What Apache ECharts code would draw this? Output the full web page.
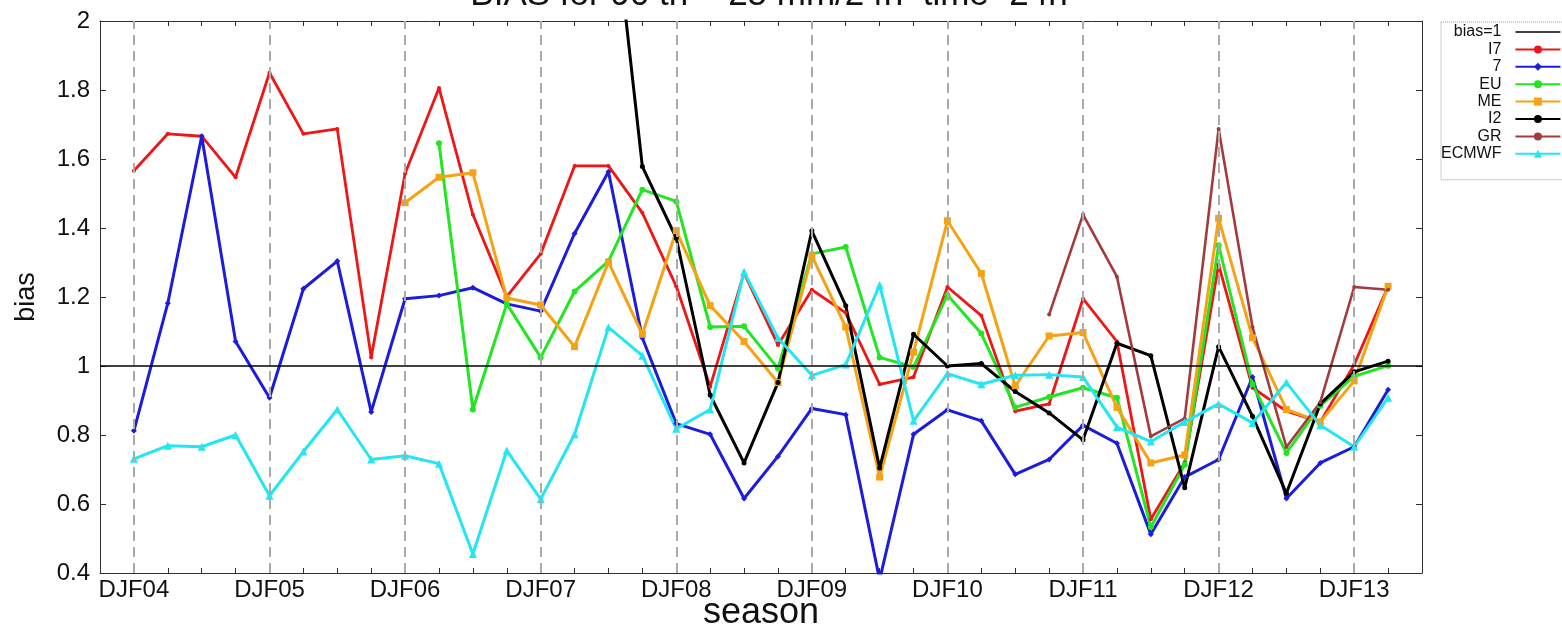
<!DOCTYPE html>
<html>
<head>
<meta charset="utf-8">
<script src="https://cdn.jsdelivr.net/npm/echarts@6/dist/echarts.min.js"></script>
<style>
  html, body { margin: 0; padding: 0; background: #fff; }
  #chart { width: 1562px; height: 628px; }
</style>
</head>
<body>
<div id="chart"></div>
<script>
// Seasons, one point per season (DJF, MAM, JJA, SON)
const seasons = [
  'DJF04','MAM04','JJA04','SON04','DJF05','MAM05','JJA05','SON05',
  'DJF06','MAM06','JJA06','SON06','DJF07','MAM07','JJA07','SON07',
  'DJF08','MAM08','JJA08','SON08','DJF09','MAM09','JJA09','SON09',
  'DJF10','MAM10','JJA10','SON10','DJF11','MAM11','JJA11','SON11',
  'DJF12','MAM12','JJA12','SON12','DJF13','MAM13'
];

// Bias per model and season (null = no data)
const biasI7 = [1.566,1.673,1.666,1.547,1.850,1.673,1.687,1.025,1.558,1.806,1.439,1.201,1.325,1.580,1.580,1.444,1.231,0.940,1.270,1.061,1.221,1.154,0.947,0.968,1.229,1.146,0.869,0.890,1.195,1.071,0.556,0.720,1.294,0.937,0.869,0.838,1.004,1.231];
const bias7 = [0.812,1.182,1.666,1.071,0.908,1.224,1.304,0.867,1.195,1.204,1.227,1.180,1.159,1.384,1.563,1.081,0.833,0.802,0.616,0.738,0.877,0.859,0.380,0.802,0.873,0.841,0.686,0.729,0.828,0.776,0.512,0.678,0.729,0.968,0.616,0.719,0.766,0.931];
const biasEU = [null,null,null,null,null,null,null,null,null,1.646,0.874,1.180,1.025,1.216,1.304,1.511,1.477,1.113,1.115,0.993,1.325,1.345,1.025,0.997,1.206,1.094,0.880,0.910,0.937,0.908,0.533,0.714,1.350,0.947,0.748,0.885,0.970,1.001];
const biasME = [null,null,null,null,null,null,null,null,1.473,1.547,1.560,1.197,1.177,1.056,1.301,1.092,1.392,1.175,1.071,0.952,1.319,1.113,0.678,1.040,1.421,1.268,0.942,1.087,1.097,0.880,0.719,0.742,1.428,1.082,0.874,0.838,0.957,1.231];
const biasI2 = [null,null,null,null,null,null,null,null,null,null,null,null,null,null,2.460,1.578,1.371,0.916,0.719,0.952,1.392,1.175,0.704,1.092,1.000,1.007,0.926,0.864,0.786,1.066,1.030,0.647,1.056,0.854,0.631,0.890,0.983,1.014];
const biasGR = [null,null,null,null,null,null,null,null,null,null,null,null,null,null,null,null,null,null,null,null,null,null,null,null,null,null,null,1.149,1.439,1.259,0.796,0.848,1.687,1.113,0.765,0.895,1.229,1.221];
const biasECMWF = [0.731,0.769,0.766,0.800,0.624,0.752,0.874,0.729,0.740,0.717,0.455,0.755,0.614,0.802,1.112,1.030,0.818,0.874,1.273,1.081,0.973,1.004,1.235,0.841,0.978,0.947,0.973,0.975,0.968,0.823,0.781,0.838,0.890,0.835,0.952,0.828,0.766,0.908];

// Reference level and y tick range
const refBias = 1;
const yMin = 0.4, yMax = 2, yStep = 0.2;

const models = [
  { name: 'I7',    values: biasI7,    color: '#ee1616', symbol: 'circle',   size: 4, width: 2.8 },
  { name: '7',     values: bias7,     color: '#1c1cdc', symbol: 'diamond',  size: 6, width: 3 },
  { name: 'EU',    values: biasEU,    color: '#22e622', symbol: 'circle',   size: 6, width: 3 },
  { name: 'ME',    values: biasME,    color: '#f5a315', symbol: 'rect',     size: 7, width: 3 },
  { name: 'I2',    values: biasI2,    color: '#000000', symbol: 'circle',   size: 5, width: 3 },
  { name: 'GR',    values: biasGR,    color: '#a33a3e', symbol: 'circle',   size: 4, width: 2.6 },
  { name: 'ECMWF', values: biasECMWF, color: '#22e6f2', symbol: 'triangle', size: 8, width: 3 }
];

const djfIndex = seasons.map((s, i) => s.startsWith('DJF') ? i : -1).filter(i => i >= 0);
const xMin = -1, xMax = seasons.length;

const chart = echarts.init(document.getElementById('chart'), null, { renderer: 'canvas' });

const series = [{
  name: 'bias=1',
  type: 'line',
  data: [],
  color: '#000',
  symbol: 'none',
  lineStyle: { color: '#000', width: 2 },
  markLine: {
    silent: true,
    symbol: 'none',
    label: { show: false },
    animation: false,
    data: djfIndex.map(i => ({
      xAxis: i,
      lineStyle: { color: '#ababab', width: 2, type: [10, 6] }
    })).concat([{
      yAxis: refBias,
      lineStyle: { color: '#000', width: 1.6, type: 'solid' }
    }])
  }
}].concat(models.map(m => ({
  name: m.name,
  type: 'line',
  data: m.values.map((v, i) => [i, v]),
  color: m.color,
  symbol: m.symbol,
  symbolSize: m.size,
  showAllSymbol: true,
  clip: true,
  lineStyle: { color: m.color, width: m.width },
  itemStyle: { color: m.color },
  emphasis: { disabled: true }
})));

// plain line icon (bounding box pinned to the full icon area)
const plainLineIcon = 'path://M0,0M45,10M0,4.2H45V5.8H0Z';

const frame = '#303030';
chart.setOption({
  animation: false,
  backgroundColor: '#ffffff',
  textStyle: { fontFamily: 'Liberation Sans, Arial, sans-serif' },
  title: {
    text: 'BIAS for 90 th = 25 mm/24h  time=24h',
    left: 764,
    textAlign: 'center',
    top: -27,
    textStyle: { fontSize: 35, fontWeight: 'normal', color: '#111' }
  },
  grid: { left: 100, right: 140, top: 21, bottom: 55, containLabel: false, outerBoundsMode: 'none' },
  legend: {
    orient: 'vertical',
    left: 1441,
    top: 22,
    align: 'right',
    itemWidth: 45,
    itemHeight: 10,
    itemGap: 1.4,
    padding: [2, 6, 18, 0],
    borderColor: '#9a9a9a',
    borderWidth: 1,
    borderType: 'dotted',
    textStyle: { fontSize: 16, lineHeight: 16, color: '#111', padding: [0, 9, 0, 0] },
    data: [{ name: 'bias=1', icon: plainLineIcon }].concat(models.map(m => m.name))
  },
  xAxis: [{
    type: 'value',
    min: xMin, max: xMax, interval: 1,
    name: 'season',
    nameLocation: 'middle',
    nameGap: 22,
    nameMoveOverlap: false,
    nameTextStyle: { fontSize: 36, lineHeight: 36, color: '#111' },
    axisLine: { show: true, onZero: false, lineStyle: { color: frame, width: 1 } },
    axisTick: { show: true, inside: true, length: 5, lineStyle: { color: frame } },
    axisLabel: {
      fontSize: 24, color: '#111', margin: 5,
      formatter: v => (v >= 0 && v < seasons.length && seasons[v].startsWith('DJF')) ? seasons[v] : ''
    },
    splitLine: { show: false }
  }, {
    type: 'value', position: 'top',
    min: xMin, max: xMax, interval: 1,
    axisLine: { show: true, onZero: false, lineStyle: { color: frame, width: 1 } },
    axisTick: { show: true, inside: true, length: 5, lineStyle: { color: frame } },
    axisLabel: { show: false },
    splitLine: { show: false }
  }],
  yAxis: [{
    type: 'value',
    min: yMin, max: yMax, interval: yStep,
    name: 'bias',
    nameLocation: 'middle',
    nameGap: 60,
    nameTextStyle: { fontSize: 27, color: '#111' },
    axisLine: { show: true, onZero: false, lineStyle: { color: frame, width: 1 } },
    axisTick: { show: true, inside: true, length: 6, lineStyle: { color: frame } },
    axisLabel: { fontSize: 24, color: '#111', margin: 10, formatter: v => String(+v.toFixed(1)) },
    splitLine: { show: false }
  }, {
    type: 'value', position: 'right',
    min: yMin, max: yMax, interval: yStep,
    axisLine: { show: true, onZero: false, lineStyle: { color: frame, width: 1 } },
    axisTick: { show: true, inside: true, length: 6, lineStyle: { color: frame } },
    axisLabel: { show: false },
    splitLine: { show: false }
  }],
  series: series
});
</script>
</body>
</html>
